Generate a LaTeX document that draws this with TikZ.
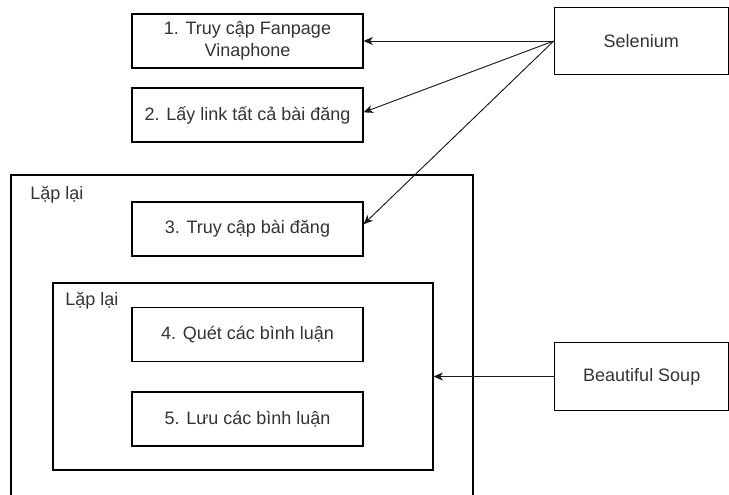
\documentclass[tikz,border=0pt]{standalone}
\usepackage{fontspec}
\setmainfont{Liberation Sans}
\usetikzlibrary{arrows.meta}
\definecolor{txt}{HTML}{333333}
\begin{document}
\begin{tikzpicture}[x=0.75pt,y=-0.75pt,
  every node/.style={font=\fontsize{13.5pt}{16.5pt}\selectfont, text=txt},
  stepbox/.style={draw=black, line width=0.8pt, fill=white, inner sep=0pt, align=center,
    minimum width=173.25pt, minimum height=40.5pt},
  toolbox/.style={draw=black, line width=0.8pt, fill=white, inner sep=0pt, align=center,
    minimum width=130.5pt, minimum height=50.5pt},
  frame/.style={draw=black, line width=0.8pt, inner sep=0pt},
  conn/.style={draw=black!90, line width=0.7pt, -{Stealth[length=7pt,width=6pt,inset=2pt]}}]
\useasboundingbox (0,0) rectangle (729,495);
\clip (0,0) rectangle (729,495);
% loop frames
\node[frame, minimum width=346.5pt, minimum height=258.75pt] (outer) at (242,347.5) {};
\node (outerlbl) at (57,195) {Lặp lại};
\node[frame, minimum width=285pt, minimum height=140.25pt] (inner) at (243,376.5) {};
\node (innerlbl) at (92,301) {Lặp lại};
% steps
\node[stepbox] (s1) at (247.5,41) {1. Truy cập Fanpage\\Vinaphone};
\node[stepbox] (s2) at (247.5,115) {2. Lấy link tất cả bài đăng};
\node[stepbox] (s3) at (247.5,229) {3. Truy cập bài đăng};
\node[stepbox] (s4) at (247.5,334.5) {4. Quét các bình luận};
\node[stepbox] (s5) at (247.5,419) {5. Lưu các bình luận};
% tools
\node[toolbox] (sel) at (641.25,41) {Selenium};
\node[toolbox] (bs) at (641.75,376.5) {Beautiful Soup};
% connectors
\draw[conn] (sel.west) -- (s1.east);
\draw[conn] (sel.west) -- ([yshift=2pt]s2.east);
\draw[conn] (sel.west) -- ([yshift=3.5pt]s3.east);
\draw[conn] (bs.west) -- (inner.east);
\end{tikzpicture}
\end{document}
